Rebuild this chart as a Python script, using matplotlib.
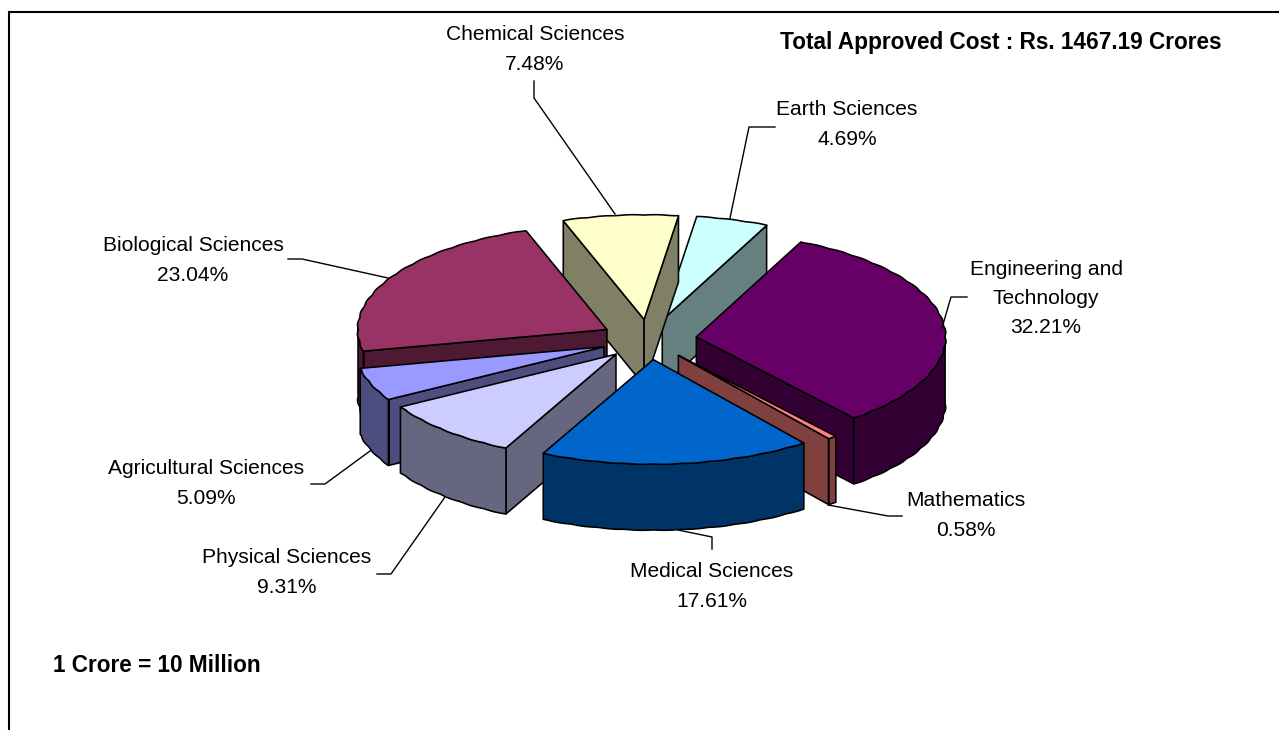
import numpy as np
import matplotlib
matplotlib.use('Agg')
import matplotlib.pyplot as plt
from matplotlib.patches import Polygon

plt.rcParams['font.family'] = ['Liberation Sans', 'DejaVu Sans']

# slices in the order they go round the pie, clockwise
categories = ['Engineering and\nTechnology', 'Mathematics', 'Medical Sciences', 'Physical Sciences',
              'Agricultural Sciences', 'Biological Sciences', 'Chemical Sciences', 'Earth Sciences']
shares = [32.21, 0.58, 17.61, 9.31, 5.09, 23.04, 7.48, 4.69]
top_colors = ['#660066', '#FF8080', '#0066CC', '#CCCCFF', '#9999FF', '#993366', '#FFFFCC', '#CCFFFF']
side_colors = ['#330033', '#804040', '#003366', '#666680', '#4D4D80', '#4D1933', '#808066', '#668080']
# back slices first so the front ones cover them
draw_order = [7, 6, 5, 4, 3, 0, 1, 2]

label_pos = [(1046, 298.5), (966, 515.5), (712, 586.5), (287, 572.5), (206, 483.5), (193, 260.5), (535, 49.5),
             (847, 124.5)]
leaders = [[(967, 297), (951, 297), (942, 328)],
           [(902, 516), (888, 516), (828, 505)],
           [(712, 549), (712, 537), (678, 530)],
           [(377, 574), (391, 574), (445, 497)],
           [(311, 484), (325, 484), (370, 451)],
           [(288, 259), (302, 259), (388, 278)],
           [(534, 81), (534, 98), (615, 214)],
           [(775, 127), (749, 127), (730, 218)]]

title_text = 'Total Approved Cost : Rs. 1467.19 Crores'
note_text = '1 Crore = 10 Million'

center_x, center_y = 648.7, 339.5
radius = 248.5
squash = 0.42
explode = 48
depth = 66
start_angle = 65.2


def project(angle, r, ox, oy, drop=0):
    return ox + r * np.cos(angle), oy - squash * r * np.sin(angle) + drop


def rim_radius(angles):
    # the original has a slightly scalloped rim
    return radius * (1 + 0.005 * np.abs(np.sin(angles * 28)))


def draw_slice(ax, a0, a1, top, side):
    mid = (a0 + a1) / 2
    ox, oy = project(mid, explode, center_x, center_y)
    steps = max(3, int(abs(a0 - a1) * 60))
    angles = np.linspace(a0, a1, steps)
    xs, ys = project(angles, rim_radius(angles), ox, oy)
    line = dict(edgecolor='black', linewidth=1.15, joinstyle='round')

    for a, visible in [(a0, np.cos(a0) < 0), (a1, np.cos(a1) > 0)]:
        if visible:
            x, y = project(a, radius, ox, oy)
            face = [(ox, oy), (x, y), (x, y + depth), (ox, oy + depth)]
            ax.add_patch(Polygon(face, facecolor=side, **line))

    front = np.sin(angles) < 0.02
    if front.sum() > 1:
        fx, fy = xs[front], ys[front]
        rim = list(zip(fx, fy)) + list(zip(fx[::-1], fy[::-1] + depth))
        ax.add_patch(Polygon(rim, facecolor=side, **line))

    ax.add_patch(Polygon([(ox, oy)] + list(zip(xs, ys)), facecolor=top, **line))


fig = plt.figure(figsize=(12.79, 7.30), dpi=100)
ax = fig.add_axes([0, 0, 1, 1])
ax.set_xlim(0, 1279)
ax.set_ylim(730, 0)
ax.axis('off')

ax.plot([9, 9, 1279], [730, 12, 12], color='black', lw=1.5, solid_joinstyle='miter')

for pts in leaders:
    xs = [p[0] for p in pts]
    ys = [p[1] for p in pts]
    ax.plot(xs, ys, color='black', lw=1.0)

edges = start_angle - np.cumsum([0] + shares) * 3.6
for i in draw_order:
    draw_slice(ax, np.radians(edges[i]), np.radians(edges[i + 1]), top_colors[i], side_colors[i])

for name, share, pos in zip(categories, shares, label_pos):
    ax.text(pos[0], pos[1], f'{name}\n{share:.2f}%', ha='center', va='center', fontsize=15.1,
            linespacing=1.67, color='black')

ax.text(780, 43, title_text, ha='left', va='center', fontsize=16.3, fontweight='bold')
ax.text(53, 665, note_text, ha='left', va='center', fontsize=16.3, fontweight='bold')

fig.savefig('out.png', dpi=100)
